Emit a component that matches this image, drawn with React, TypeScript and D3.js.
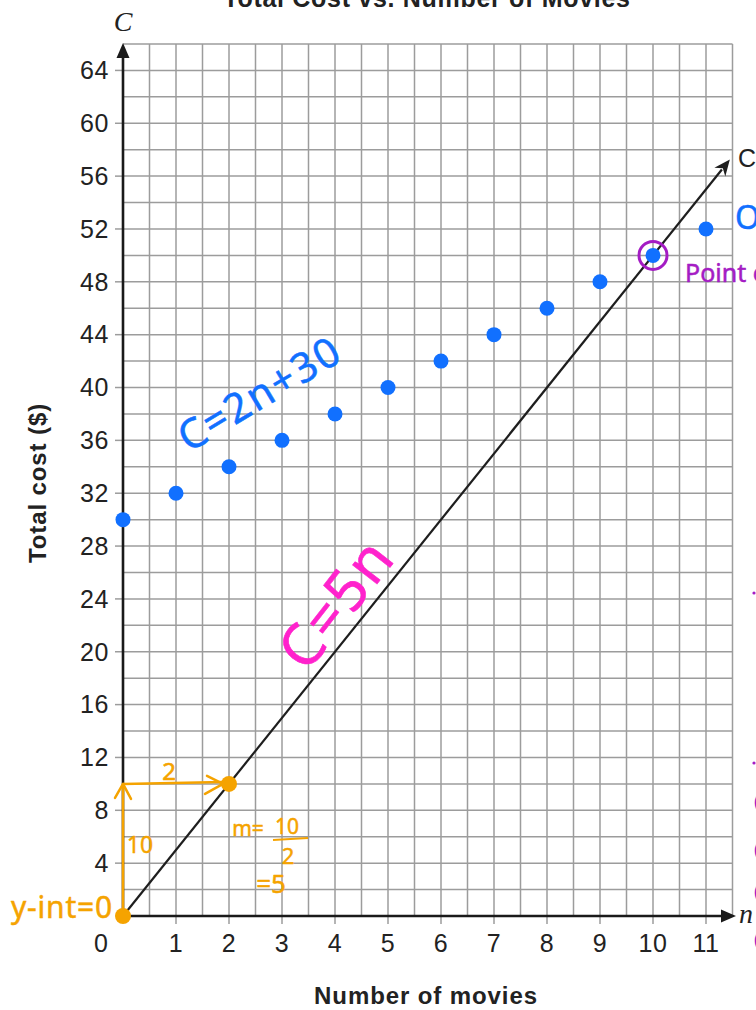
import React from "react";
import * as d3 from "d3";

const movies = [0, 1, 2, 3, 4, 5, 6, 7, 8, 9, 10, 11];
const planCost = [30, 32, 34, 36, 38, 40, 42, 44, 46, 48, 50, 52];
const yTicks = [4, 8, 12, 16, 20, 24, 28, 32, 36, 40, 44, 48, 52, 56, 60, 64];
const xTicks = [1, 2, 3, 4, 5, 6, 7, 8, 9, 10, 11];
const orangePoints = [
  { n: 0, c: 0 },
  { n: 2, c: 10 },
];
const lineSlope = 5;
const lineEndN = 11.45;
const intersection = { n: 10, c: 50 };

const W = 756;
const H = 1010;

export default function App() {
  const x = d3.scaleLinear().domain([0, 11.5]).range([123, 732.5]);
  const y = d3.scaleLinear().domain([0, 66]).range([916, 44]);

  const vGrid = d3.range(0.5, 11.51, 0.5);
  const hGrid = d3.range(2, 66.01, 2);

  const sans = "'Liberation Sans', Arial, Helvetica, sans-serif";
  const hand = "'Noto Sans', 'DejaVu Sans', sans-serif";
  const blue = "#1170ff";
  const orange = "#f5a300";
  const magenta = "#ff22cc";
  const purple = "#a41cc4";

  const x0 = x(0), y0 = y(0);
  const x1 = x(lineEndN), y1 = y(lineSlope * lineEndN);
  const ang = Math.atan2(y1 - y0, x1 - x0);
  const ah = 16, aw = 7;
  const bx = x1 - ah * Math.cos(ang), by = y1 - ah * Math.sin(ang);
  const arrowPts = [
    [x1, y1],
    [bx + aw * Math.sin(ang), by - aw * Math.cos(ang)],
    [x1 - ah * 0.7 * Math.cos(ang), y1 - ah * 0.7 * Math.sin(ang)],
    [bx - aw * Math.sin(ang), by + aw * Math.cos(ang)],
  ];

  const lineGen = d3.line<[number, number]>().x((d) => x(d[0])).y((d) => y(d[1]));

  const ox = x(0);
  const oTop = y(10);
  const oRight = x(2) - 6;

  const handStyle = (c: string, w = 1.1) => ({
    fill: c,
    stroke: c,
    strokeWidth: w,
    strokeLinejoin: "round" as const,
  });

  return (
    <svg
      width={W}
      height={H}
      style={{ position: "absolute", left: 0, top: 0, background: "#fff" }}
      overflow="hidden"
    >
      <rect width={W} height={H} fill="#fff" />
      <text x={427} y={7} textAnchor="middle" fontFamily={sans} fontWeight="bold" fontSize={25} letterSpacing={0.7} fill="#222">
        Total Cost vs. Number of Movies
      </text>
      {vGrid.map((v) => (
        <line key={"v" + v} x1={x(v)} x2={x(v)} y1={y(0)} y2={y(66)} stroke="#9c9c9c" strokeWidth={1.5} />
      ))}
      {hGrid.map((v) => (
        <line key={"h" + v} x1={x(0)} x2={x(11.5)} y1={y(v)} y2={y(v)} stroke="#9c9c9c" strokeWidth={1.5} />
      ))}
      {yTicks.map((v) => (
        <g key={"yt" + v}>
          <line x1={x(0) - 8} x2={x(0)} y1={y(v)} y2={y(v)} stroke="#9c9c9c" strokeWidth={1.5} />
          <text x={109} y={y(v) + 8.8} textAnchor="end" fontFamily={sans} fontSize={25} letterSpacing={0.6} fill="#222">
            {v}
          </text>
        </g>
      ))}
      {xTicks.map((v) => (
        <g key={"xt" + v}>
          <line x1={x(v)} x2={x(v)} y1={y(0)} y2={y(0) + 8} stroke="#9c9c9c" strokeWidth={1.5} />
          <text x={x(v)} y={952} textAnchor="middle" fontFamily={sans} fontSize={25} letterSpacing={0.6} fill="#222">
            {v}
          </text>
        </g>
      ))}
      <text x={101} y={952} textAnchor="middle" fontFamily={sans} fontSize={25} fill="#222">0</text>
      <line x1={x(0)} x2={x(0)} y1={y(0) + 1} y2={52} stroke="#1a1a1a" strokeWidth={2.6} />
      <polygon points={`${x(0)},43 ${x(0) - 6.5},58 ${x(0) + 6.5},58`} fill="#1a1a1a" />
      <line x1={x(0)} x2={726} y1={y(0)} y2={y(0)} stroke="#1a1a1a" strokeWidth={2.6} />
      <polygon points={`736,${y(0)} 721,${y(0) - 6.5} 721,${y(0) + 6.5}`} fill="#1a1a1a" />
      <text x={123} y={31} textAnchor="middle" fontFamily="'Liberation Serif', 'DejaVu Serif', serif" fontStyle="italic" fontSize={28} fill="#222">C</text>
      <text x={739} y={923} fontFamily="'Liberation Serif', 'DejaVu Serif', serif" fontStyle="italic" fontSize={28} fill="#222">n</text>
      <text x={426} y={1004} textAnchor="middle" fontFamily={sans} fontWeight="bold" fontSize={24} letterSpacing={0.9} fill="#222">
        Number of movies
      </text>
      <text
        transform={`translate(46,483) rotate(-90)`}
        textAnchor="middle"
        fontFamily={sans}
        fontWeight="bold"
        fontSize={24}
        letterSpacing={0.9}
        fill="#222"
      >
        Total cost ($)
      </text>
      <path d={lineGen([[0, 0], [lineEndN - 0.15, lineSlope * (lineEndN - 0.15)]]) || ""} stroke="#1e1e1e" strokeWidth={2.2} fill="none" />
      <polygon points={arrowPts.map((p) => p.join(",")).join(" ")} fill="#1e1e1e" />
      {movies.map((n, i) => (
        <circle key={"b" + n} cx={x(n)} cy={y(planCost[i])} r={7.5} fill={blue} />
      ))}
      {/* orange annotations */}
      <line x1={ox} x2={ox} y1={y(0)} y2={oTop} stroke={orange} strokeWidth={2.5} />
      <polyline points={`${ox - 8},${oTop + 14} ${ox},${oTop} ${ox + 8},${oTop + 15}`} fill="none" stroke={orange} strokeWidth={2.5} strokeLinecap="round" strokeLinejoin="round" />
      <line x1={ox} x2={oRight} y1={oTop} y2={oTop - 2} stroke={orange} strokeWidth={2.5} />
      <polyline points={`${oRight - 16},${oTop - 8} ${oRight},${oTop} ${oRight - 18},${oTop + 10}`} fill="none" stroke={orange} strokeWidth={2.5} strokeLinecap="round" strokeLinejoin="round" />
      {orangePoints.map((p) => (
        <circle key={"o" + p.n} cx={x(p.n)} cy={y(p.c)} r={8} fill={orange} />
      ))}
      <text x={169} y={780} textAnchor="middle" fontFamily={hand} fontSize={24} {...handStyle(orange, 0.6)}>2</text>
      <text x={140} y={853} textAnchor="middle" fontFamily={hand} fontSize={23} {...handStyle(orange, 0.4)}>10</text>
      <text x={62} y={918} textAnchor="middle" fontFamily={hand} fontSize={30} letterSpacing={0.8} {...handStyle(orange, 0.5)}>y-int=0</text>
      <text x={248} y={836} textAnchor="middle" fontFamily={hand} fontSize={21} {...handStyle(orange, 0.5)}>m=</text>
      <text x={287} y={834} textAnchor="middle" fontFamily={hand} fontSize={21} {...handStyle(orange, 0.5)}>10</text>
      <line x1={273} x2={308} y1={840} y2={838} stroke={orange} strokeWidth={2} />
      <text x={288} y={864} textAnchor="middle" fontFamily={hand} fontSize={22} {...handStyle(orange, 0.5)}>2</text>
      <text x={271} y={893} textAnchor="middle" fontFamily={hand} fontSize={26} {...handStyle(orange, 0.5)}>=5</text>
      {/* blue equation */}
      <text transform="translate(267,406) rotate(-31)" textAnchor="middle" fontFamily={hand} fontSize={41} letterSpacing={2} {...handStyle(blue, 0.5)}>
        C=2n+30
      </text>
      {/* magenta equation */}
      <text transform="translate(352,616) rotate(-52)" textAnchor="middle" fontFamily={hand} fontSize={58} letterSpacing={2} {...handStyle(magenta, 0.6)}>
        C=5n
      </text>
      {/* purple intersection */}
      <circle cx={x(intersection.n)} cy={y(intersection.c)} r={14} fill="none" stroke={purple} strokeWidth={3} />
      <text x={685} y={282} fontFamily={hand} fontSize={25} {...handStyle(purple, 0.5)}>Point of intersection</text>
      {/* right edge cut-off notes */}
      <text x={738} y={167} fontFamily={sans} fontSize={25} fill="#222">C = 5n</text>
      <text x={735} y={229} fontFamily={hand} fontSize={32} {...handStyle(blue, 0.5)}>O</text>
      {[593, 763].map((yy) => (
        <circle key={"pd" + yy} cx={754} cy={yy} r={1.6} fill={purple} />
      ))}
      {[808, 856, 898, 946].map((yy) => (
        <text key={"pc" + yy} x={754} y={yy} fontFamily={hand} fontSize={20} fill={purple}>(</text>
      ))}
    </svg>
  );
}
